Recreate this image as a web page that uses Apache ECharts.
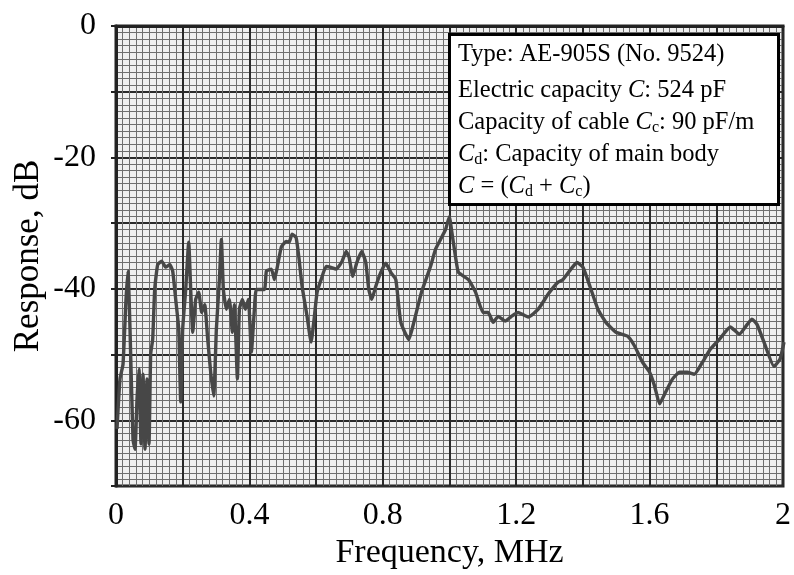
<!DOCTYPE html>
<html><head><meta charset="utf-8">
<script src="https://cdn.jsdelivr.net/npm/echarts@6/dist/echarts.min.js"></script>
<style>html,body{margin:0;padding:0;background:#fff}#c{width:794px;height:575px}</style>
</head><body><div id="c"></div>
<script>
// Frequency (MHz) and response (dB)
const frequencyMHz = [
  0.003,0.012,0.021,0.030,0.036,0.042,0.051,0.057,0.063,0.069,0.075,0.081,0.087,0.093,0.099,
  0.104,0.110,0.116,0.125,0.137,0.149,0.161,0.170,0.179,0.188,0.194,0.200,0.209,0.218,0.224,
  0.230,0.239,0.248,0.257,0.266,0.275,0.284,0.293,0.301,0.310,0.316,0.322,0.331,0.340,0.349,
  0.355,0.364,0.370,0.379,0.388,0.397,0.406,0.415,0.421,0.445,0.451,0.466,0.475,0.484,0.496,
  0.510,0.519,0.528,0.540,0.549,0.558,0.573,0.585,0.594,0.603,0.615,0.630,0.642,0.660,0.678,
  0.690,0.699,0.710,0.722,0.737,0.749,0.758,0.767,0.779,0.794,0.809,0.824,0.839,0.854,0.878,
  0.893,0.916,0.943,0.958,0.973,0.988,1.000,1.006,1.018,1.027,1.057,1.078,1.101,1.116,1.131,
  1.146,1.167,1.185,1.206,1.236,1.266,1.296,1.325,1.340,1.364,1.382,1.400,1.421,1.445,1.469,
  1.499,1.534,1.555,1.579,1.600,1.615,1.630,1.648,1.669,1.690,1.713,1.734,1.758,1.782,1.809,
  1.842,1.869,1.893,1.907,1.922,1.943,1.973,1.991,2.003
];
const responseDB = [
  -61.3,-53.7,-51.5,-41.6,-37.3,-46.1,-62.9,-64.4,-56.8,-52.2,-63.6,-53.0,-64.4,-53.7,-63.6,
  -49.9,-47.7,-40.1,-36.3,-35.8,-36.7,-36.3,-37.3,-41.6,-46.1,-57.2,-46.1,-40.1,-32.9,-40.1,
  -46.6,-41.6,-40.5,-43.6,-42.4,-47.7,-52.7,-56.3,-46.1,-38.6,-32.5,-40.1,-43.1,-41.6,-46.6,
  -42.4,-53.7,-43.1,-41.6,-43.1,-41.6,-49.6,-43.1,-40.1,-40.1,-37.3,-37.0,-38.6,-36.6,-33.6,
  -32.8,-32.9,-31.7,-32.2,-35.5,-39.6,-44.2,-48.1,-44.6,-40.5,-38.6,-36.6,-36.7,-37.0,-35.8,
  -34.3,-35.2,-38.1,-36.0,-34.3,-36.0,-40.1,-41.6,-39.6,-37.5,-36.1,-37.5,-38.6,-45.1,-47.7,
  -45.1,-40.5,-36.6,-34.0,-32.5,-31.0,-29.0,-31.0,-35.1,-37.5,-38.6,-40.5,-43.6,-43.6,-45.1,
  -44.2,-44.9,-44.2,-43.6,-44.3,-43.1,-40.8,-39.0,-38.6,-37.0,-36.0,-36.7,-39.6,-43.1,-45.1,
  -46.6,-47.2,-48.7,-51.2,-52.7,-54.8,-57.5,-55.7,-53.7,-52.7,-52.7,-53.0,-51.2,-49.2,-47.7,
  -45.8,-46.9,-45.4,-44.6,-45.4,-48.1,-51.8,-50.7,-48.1
];
const xTickLabels = ['0', '0.4', '0.8', '1.2', '1.6', '2'];
const yTickLabels = ['0', '-20', '-40', '-60'];
const xAxisTitle = 'Frequency, MHz';
const yAxisTitle = 'Response, dB';
const infoLines = [
  '{n|Type: AE-905S (No. 9524)}',
  '{n|Electric capacity }{i|C}{n|: 524 pF}',
  '{n|Capacity of cable }{i|C}{s|c}{n|: 90 pF/m}',
  '{i|C}{s|d}{n|: Capacity of main body}',
  '{i|C}{n| = (}{i|C}{s|d}{n| + }{i|C}{s|c}{n|)}'
];

const FONT = 'Liberation Serif';
const chart = echarts.init(document.getElementById('c'), null, {renderer: 'canvas'});
const points = frequencyMHz.map((f, i) => [f, responseDB[i]]);
const rich = {
  n: {fontFamily: FONT, fontSize: 24.5, color: '#000', lineHeight: 25},
  i: {fontFamily: FONT, fontSize: 24.5, fontStyle: 'italic', color: '#000', lineHeight: 25},
  s: {fontFamily: FONT, fontSize: 16, color: '#000', lineHeight: 12, verticalAlign: 'bottom'}
};
const lineCentres = [55, 91, 123, 155, 187];
const infoTexts = infoLines.map((t, k) => ({
  type: 'text', left: 458, top: lineCentres[k] - 12.5, z: 102,
  style: {text: t, rich: rich, fontFamily: FONT, fontSize: 24.5, fill: '#000'}
}));

chart.setOption({
  backgroundColor: '#fff',
  animation: false,
  grid: {left: 116, right: 8, top: 26, bottom: 88, show: true,
         backgroundColor: '#efefef', borderColor: '#222', borderWidth: 3},
  xAxis: {
    type: 'value', min: 0, max: 2, interval: 0.2,
    name: xAxisTitle, nameLocation: 'middle', nameGap: 50, nameMoveOverlap: false,
    nameTextStyle: {fontFamily: FONT, fontSize: 34, color: '#000'},
    axisLine: {show: true, lineStyle: {color: '#222', width: 3}},
    axisTick: {show: true, length: 5, lineStyle: {color: '#222', width: 2}},
    axisLabel: {
      fontFamily: FONT, fontSize: 32, color: '#000', margin: 14,
      formatter: v => {const k = v / 0.4; return Math.abs(k - Math.round(k)) < 1e-6 ? xTickLabels[Math.round(k)] : '';}
    },
    splitLine: {show: true, lineStyle: {color: '#2a2a2a', width: 2}},
    minorTick: {show: false, splitNumber: 10},
    minorSplitLine: {show: true, lineStyle: {color: '#6e6e6e', width: 1}}
  },
  yAxis: {
    type: 'value', min: -70, max: 0, interval: 10,
    name: yAxisTitle, nameLocation: 'middle', nameGap: 70, nameMoveOverlap: false,
    nameTextStyle: {fontFamily: FONT, fontSize: 35, color: '#000'},
    axisLine: {show: true, lineStyle: {color: '#222', width: 3}},
    axisTick: {show: true, length: 5, lineStyle: {color: '#222', width: 2}},
    axisLabel: {
      fontFamily: FONT, fontSize: 32, color: '#000', margin: 20,
      formatter: v => {const k = -v / 20; return Math.abs(k - Math.round(k)) < 1e-6 ? yTickLabels[Math.round(k)] : '';}
    },
    splitLine: {show: true, lineStyle: {color: '#2a2a2a', width: 2}},
    minorTick: {show: false, splitNumber: 10},
    minorSplitLine: {show: true, lineStyle: {color: '#6e6e6e', width: 1}}
  },
  series: [{
    type: 'line', data: points, showSymbol: false, smooth: 0.15,
    lineStyle: {color: '#474747', width: 3.4}, z: 5
  }],
  graphic: [
    {type: 'rect', left: 448, top: 33, z: 100,
     shape: {width: 329, height: 170},
     style: {fill: '#fff', stroke: '#000', lineWidth: 3}}
  ].concat(infoTexts)
});
</script></body></html>
